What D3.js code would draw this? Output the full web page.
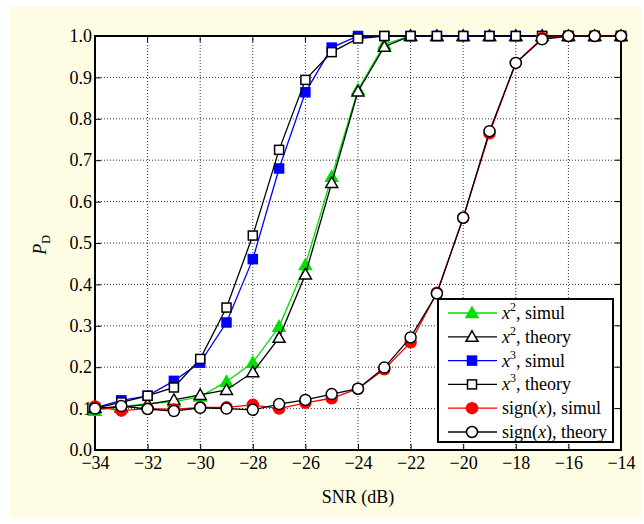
<!DOCTYPE html>
<html>
<head>
<meta charset="utf-8">
<script src="https://cdn.jsdelivr.net/npm/d3@7"></script>
<style>
  body { margin: 0; background: #fff; }
  text { font-family: "Liberation Serif", "Times New Roman", serif; }
</style>
</head>
<body>
<svg id="chart" width="644" height="524"></svg>
<script>
var snr = [-34, -33, -32, -31, -30, -29, -28, -27, -26, -25, -24, -23, -22, -21, -20, -19, -18, -17, -16, -15, -14];

var x2Simul   = [0.095, 0.105, 0.112, 0.116, 0.129, 0.165, 0.211, 0.298, 0.447, 0.660, 0.870, 0.980, 1, 1, 1, 1, 1, 1, 1, 1, 1];
var x2Theory  = [0.102, 0.103, 0.110, 0.121, 0.133, 0.145, 0.188, 0.271, 0.424, 0.645, 0.866, 0.974, 1, 1, 1, 1, 1, 1, 1, 1, 1];
var x3Simul   = [0.102, 0.120, 0.131, 0.167, 0.211, 0.308, 0.461, 0.680, 0.864, 0.972, 1.000, 1, 1, 1, 1, 1, 1, 1, 1, 1, 1];
var x3Theory  = [0.101, 0.115, 0.131, 0.151, 0.220, 0.344, 0.518, 0.725, 0.894, 0.961, 0.994, 1, 1, 1, 1, 1, 1, 1, 1, 1, 1];
var sgnSimul  = [0.105, 0.095, 0.100, 0.098, 0.103, 0.103, 0.109, 0.100, 0.114, 0.125, 0.148, 0.195, 0.260, 0.380, 0.561, 0.765, 0.935, 0.995, 1, 1, 1];
var sgnTheory = [0.100, 0.106, 0.099, 0.094, 0.102, 0.100, 0.097, 0.111, 0.121, 0.135, 0.148, 0.199, 0.272, 0.378, 0.561, 0.770, 0.935, 0.992, 1, 1, 1];

var xTicks = [-34, -32, -30, -28, -26, -24, -22, -20, -18, -16, -14];
var yTicks = [0, 0.1, 0.2, 0.3, 0.4, 0.5, 0.6, 0.7, 0.8, 0.9, 1.0];

var series = [
  { name: "x2", kind: "simul",  values: x2Simul,   color: "#00e000", marker: "triangle", fill: "#00e000" },
  { name: "x2", kind: "theory", values: x2Theory,  color: "#000",    marker: "triangle", fill: "#fff" },
  { name: "x3", kind: "simul",  values: x3Simul,   color: "#0000ff", marker: "square",   fill: "#0000ff" },
  { name: "x3", kind: "theory", values: x3Theory,  color: "#000",    marker: "square",   fill: "#fff" },
  { name: "sign", kind: "simul",  values: sgnSimul,  color: "#ff0000", marker: "circle", fill: "#ff0000" },
  { name: "sign", kind: "theory", values: sgnTheory, color: "#000",    marker: "circle", fill: "#fff" }
];

var svg = d3.select('#chart');
var pLeft = 95, pRight = 621, pTop = 36, pBottom = 450;

svg.append('rect')
  .attr('x', 10).attr('y', 6)
  .attr('width', 632).attr('height', 512)
  .attr('fill', '#fefde3');

svg.append('rect')
  .attr('x', pLeft).attr('y', pTop)
  .attr('width', pRight - pLeft).attr('height', pBottom - pTop)
  .attr('fill', '#fff');

var xScale = d3.scaleLinear().domain([-34, -14]).range([pLeft, pRight]);
var yScale = d3.scaleLinear().domain([0, 1]).range([pBottom, pTop]);

// dotted grid
svg.append('g').selectAll('line')
  .data(xTicks.slice(1, -1))
  .enter().append('line')
  .attr('x1', function (d) { return xScale(d); })
  .attr('x2', function (d) { return xScale(d); })
  .attr('y1', pTop).attr('y2', pBottom)
  .attr('stroke', '#333').attr('stroke-width', 1)
  .attr('stroke-dasharray', '1,2');
svg.append('g').selectAll('line')
  .data(yTicks.slice(1, -1))
  .enter().append('line')
  .attr('y1', function (d) { return yScale(d); })
  .attr('y2', function (d) { return yScale(d); })
  .attr('x1', pLeft).attr('x2', pRight)
  .attr('stroke', '#333').attr('stroke-width', 1)
  .attr('stroke-dasharray', '1,2');

// axes (ticks inward)
var xAxis = d3.axisBottom(xScale).tickValues(xTicks).tickSizeInner(-6).tickSizeOuter(0)
  .tickFormat(function (d) { return '\u2212' + Math.abs(d); });
var yAxis = d3.axisLeft(yScale).tickValues(yTicks).tickSizeInner(-6).tickSizeOuter(0)
  .tickFormat(d3.format('.1f'));

var gx = svg.append('g').attr('transform', 'translate(0,' + pBottom + ')').call(xAxis);
gx.select('.domain').remove();
gx.selectAll('text').attr('font-size', 18).attr('fill', '#000').attr('y', 5).attr('dy', '0.75em')
  .style('font-family', '"Liberation Serif", serif');
gx.selectAll('line').attr('stroke', '#000');

var gy = svg.append('g').attr('transform', 'translate(' + pLeft + ',0)').call(yAxis);
gy.select('.domain').remove();
gy.selectAll('text').attr('font-size', 18).attr('fill', '#000').attr('x', -3)
  .style('font-family', '"Liberation Serif", serif');
gy.selectAll('line').attr('stroke', '#000');

// top/right ticks
svg.append('g').selectAll('line').data(xTicks).enter().append('line')
  .attr('x1', function (d) { return xScale(d); }).attr('x2', function (d) { return xScale(d); })
  .attr('y1', pTop).attr('y2', pTop + 6).attr('stroke', '#000');
svg.append('g').selectAll('line').data(yTicks).enter().append('line')
  .attr('y1', function (d) { return yScale(d); }).attr('y2', function (d) { return yScale(d); })
  .attr('x1', pRight).attr('x2', pRight - 6).attr('stroke', '#000');

svg.append('rect')
  .attr('x', pLeft).attr('y', pTop)
  .attr('width', pRight - pLeft).attr('height', pBottom - pTop)
  .attr('fill', 'none').attr('stroke', '#000').attr('stroke-width', 2);

// axis labels
svg.append('text')
  .attr('x', (pLeft + pRight) / 2).attr('y', 503)
  .attr('text-anchor', 'middle').attr('font-size', 18)
  .text('SNR (dB)');

var yl = svg.append('text')
  .attr('transform', 'translate(46,245) rotate(-90)')
  .attr('text-anchor', 'middle').attr('font-size', 18);
yl.append('tspan').attr('font-style', 'italic').text('P');
yl.append('tspan').attr('font-size', 12).attr('dy', 4).text('D');

function drawMarker(g, type, cx, cy, fill, stroke) {
  if (type === 'circle') {
    g.append('circle').attr('cx', cx).attr('cy', cy).attr('r', 5.5)
      .attr('fill', fill).attr('stroke', stroke).attr('stroke-width', 1.5);
  } else if (type === 'square') {
    g.append('rect').attr('x', cx - 4.5).attr('y', cy - 4.5).attr('width', 9).attr('height', 9)
      .attr('fill', fill).attr('stroke', stroke).attr('stroke-width', 1.5);
  } else {
    var s = 6;
    g.append('path')
      .attr('d', 'M' + cx + ',' + (cy - s) + 'L' + (cx + s) + ',' + (cy + s * 0.75) + 'L' + (cx - s) + ',' + (cy + s * 0.75) + 'Z')
      .attr('fill', fill).attr('stroke', stroke).attr('stroke-width', 1.5);
  }
}

var line = d3.line()
  .x(function (d, i) { return xScale(snr[i]); })
  .y(function (d) { return yScale(d); });

series.forEach(function (s) {
  var g = svg.append('g');
  g.append('path').datum(s.values)
    .attr('d', line)
    .attr('fill', 'none')
    .attr('stroke', s.color)
    .attr('stroke-width', 1.3);
  s.values.forEach(function (v, i) {
    var stroke = s.kind === 'simul' ? s.color : '#000';
    drawMarker(g, s.marker, xScale(snr[i]), yScale(v), s.fill, stroke);
  });
});

// legend
var lg = svg.append('g');
lg.append('rect')
  .attr('x', 438).attr('y', 299).attr('width', 175).attr('height', 143)
  .attr('fill', '#fff').attr('stroke', '#000').attr('stroke-width', 2);

series.forEach(function (s, i) {
  var y = 313 + i * 23.8;
  lg.append('line').attr('x1', 448).attr('x2', 497).attr('y1', y).attr('y2', y)
    .attr('stroke', s.color).attr('stroke-width', 1.3);
  drawMarker(lg, s.marker, 472, y, s.fill, s.kind === 'simul' ? s.color : '#000');
  var t = lg.append('text').attr('x', 502).attr('y', y + 6).attr('font-size', 18);
  if (s.name === 'sign') {
    t.append('tspan').text('sign(');
    t.append('tspan').attr('font-style', 'italic').text('x');
    t.append('tspan').text('), ' + s.kind);
  } else {
    t.append('tspan').attr('font-style', 'italic').text('x');
    t.append('tspan').attr('font-size', 12).attr('dy', -8).text(s.name === 'x2' ? '2' : '3');
    t.append('tspan').attr('dy', 8).text(', ' + s.kind);
  }
});
</script>
</body>
</html>
